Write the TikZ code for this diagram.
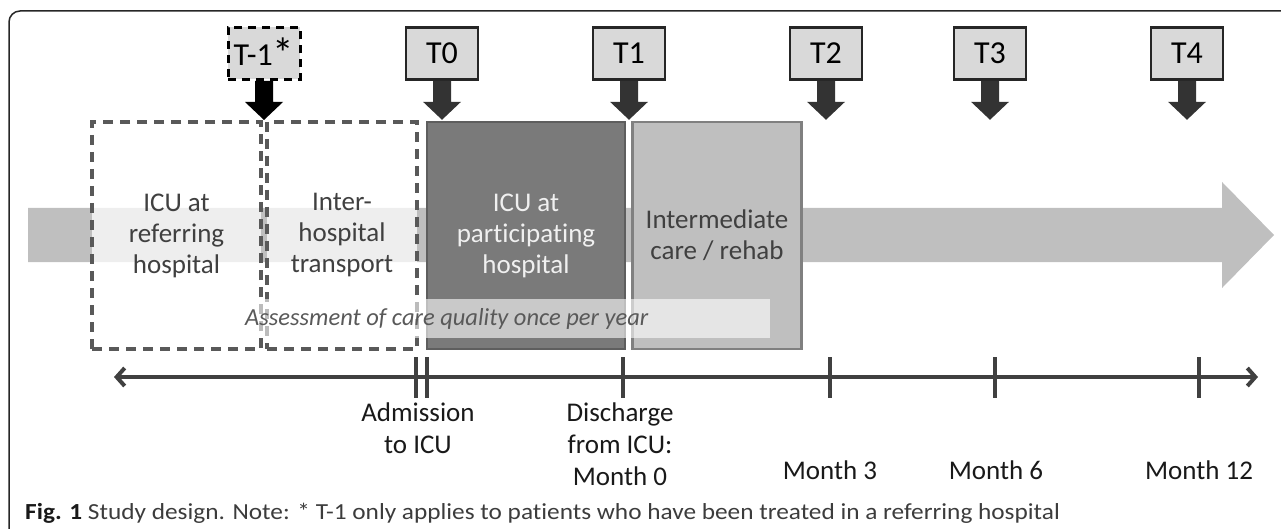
\documentclass[tikz,border=0pt]{standalone}
\usepackage{fontspec}
\setmainfont{Carlito}[Ligatures=NoCommon]
\usetikzlibrary{arrows.meta}
\definecolor{bandgray}{HTML}{BFBFBF}
\definecolor{tboxfill}{HTML}{D9D9D9}
\definecolor{icudark}{HTML}{7A7A7A}
\definecolor{icuborder}{HTML}{5E5E5E}
\definecolor{interfill}{HTML}{BFBFBF}
\definecolor{interborder}{HTML}{808080}
\definecolor{dashgray}{HTML}{595959}
\definecolor{axisgray}{HTML}{404040}
\definecolor{textdark}{HTML}{404040}
\definecolor{arrowdark}{HTML}{333333}
\definecolor{capgray}{HTML}{3C3C3C}
\definecolor{assessgray}{HTML}{595959}
\begin{document}
\begin{tikzpicture}[x=1pt,y=-1pt,
  tbox/.style={draw=black!85, line width=2.6pt, fill=tboxfill, minimum width=72pt, minimum height=52pt, inner sep=0pt, font=\fontsize{32}{36}\selectfont},
  phase/.style={minimum height=227pt, inner sep=0pt, align=center, font=\fontsize{27}{31}\selectfont, text=textdark, line width=2.5pt},
  dashbox/.style={phase, draw=dashgray, line width=3.2pt, dash pattern=on 10pt off 7pt, fill=white, fill opacity=0.75, text opacity=1},
  lab/.style={align=center, font=\fontsize{27}{32}\selectfont, inner sep=0pt, text=black!90},
  tickmark/.style={draw=axisgray, line width=4pt},
  blockarrow/.style={fill=arrowdark}
]
\useasboundingbox (0,0) rectangle (1281,529);
% frame
\draw[black!85, line width=1.5pt, rounded corners=11pt] (9,535) -- (9,11) -- (1290,11);
% big gray band arrow
\fill[bandgray] (28,208) -- (1222,208) -- (1222,182) -- (1274,235) -- (1222,288) -- (1222,262) -- (28,262) -- cycle;
% phase boxes
\node[dashbox, minimum width=169pt] (reficu) at (176.5,235.5) {\raisebox{-4pt}{\parbox{160pt}{\centering ICU at\\referring\\hospital}}};
\node[dashbox, minimum width=150pt] (transp) at (342,235.5) {\raisebox{-4pt}{\parbox{145pt}{\centering Inter-\\hospital\\transport}}};
\node[phase, draw=icuborder, fill=icudark, text=white!94!black, minimum width=198pt] (icu) at (526,235.5) {\raisebox{-4pt}{\parbox{190pt}{\centering ICU at\\participating\\hospital}}};
\node[phase, draw=interborder, fill=interfill, minimum width=169pt] (inter) at (717,235.5) {Intermediate\\care / rehab};
% assessment overlay
\node[fill=white, fill opacity=0.6, minimum width=532pt, minimum height=39pt, inner sep=0pt] (assess) at (504,318.5) {};
\node[anchor=west, inner sep=0pt, font=\fontsize{24.5}{28}\selectfont\itshape, text=assessgray] (assesstext) at (245,319) {Assessment of care quality once per year};
% time point boxes
\node[tbox, draw=black, line width=3pt, dash pattern=on 8pt off 6pt] (Tm1) at (264,53.5) {T-1\raisebox{-3pt}{\scalebox{1.35}{*}}};
\node[tbox] (T0) at (442,53.5) {T0};
\node[tbox] (T1) at (629,53.5) {T1};
\node[tbox] (T2) at (826,53.5) {T2};
\node[tbox] (T3) at (990,53.5) {T3};
\node[tbox] (T4) at (1187,53.5) {T4};
\fill[black] (Tm1.south) ++(-9,0) -- ++(0,21) -- ++(-10,0) -- ++(19,18) -- ++(19,-18) -- ++(-10,0) -- ++(0,-21) -- cycle;
\foreach \n in {T0,T1,T2,T3,T4}
  \fill[blockarrow] (\n.south) ++(-9,0) -- ++(0,21) -- ++(-10,0) -- ++(19,18) -- ++(19,-18) -- ++(-10,0) -- ++(0,-21) -- cycle;
% axis
\coordinate (axL) at (114,377);
\coordinate (axR) at (1258,377);
\draw[axisgray, line width=4pt, {Straight Barb[length=8pt,width=18pt]}-{Straight Barb[length=8pt,width=18pt]}] (axL) -- (axR);
\foreach \tx in {416,427,623,830,995,1199}
  \draw[tickmark] (\tx,357) -- (\tx,398);
% labels
\node[lab] (adm) at (418,428) {Admission\\to ICU};
\node[lab] (dis) at (620,444) {Discharge\\from ICU:\\Month 0};
\node[lab] (m3) at (830,470) {Month 3};
\node[lab] (m6) at (996,470) {Month 6};
\node[lab] (m12) at (1199,470) {Month 12};
% caption
\node[anchor=west, inner sep=0pt, font=\fontsize{23}{26}\selectfont, text=capgray] (cap) at (25,513) {\scalebox{1.1}[1]{\textbf{\color{black!90}Fig. 1} Study design. Note: * T-1 only applies to patients who have been treated in a referring hospital}};
\end{tikzpicture}
\end{document}
